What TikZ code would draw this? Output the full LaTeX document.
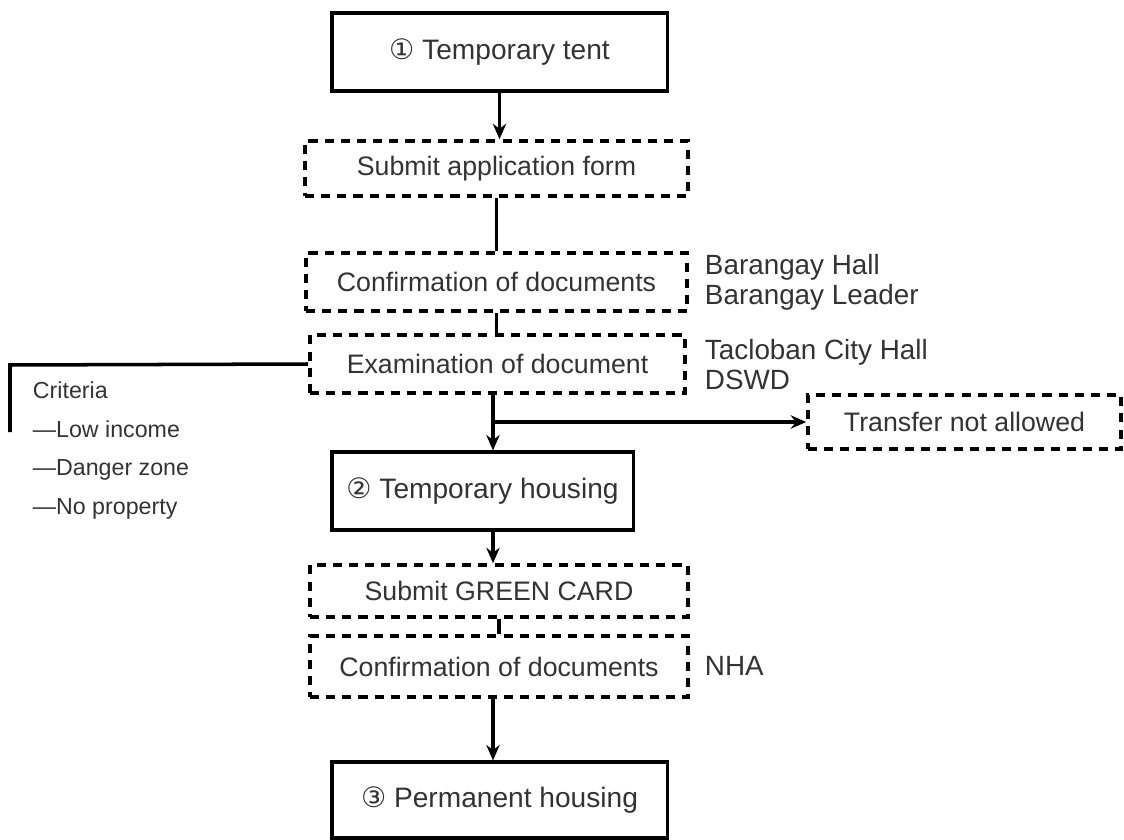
\documentclass[tikz,border=0pt]{standalone}
\usepackage{fontspec}
\setmainfont{Liberation Sans}
\newfontfamily\circfont{DejaVu Sans}
\usetikzlibrary{arrows.meta}
\tikzset{
  solidbox/.style={draw, line width=2.2pt, minimum width=8.375cm, minimum height=1.95cm, font=\fontsize{20}{23}\selectfont},
  dashbox/.style={draw, line width=2.5pt, dash pattern=on 6.5pt off 5pt, minimum height=1.4cm, font=\fontsize{19}{22}\selectfont},
  sidenote/.style={anchor=west, align=left, font=\fontsize{19.8}{21.3}\selectfont},
  link/.style={line width=2.5pt},
  flow/.style={line width=2.5pt, -{Stealth[length=11pt,width=9.5pt]}}
}
\begin{document}
\begin{tikzpicture}[x=0.025cm, y=-0.025cm, text=black!80]
\useasboundingbox (0,0) rectangle (1124,840);
\node[solidbox] (tent) at (499.5,52) {{\circfont ①} Temporary tent};
\node[dashbox, minimum width=9.575cm, minimum height=1.375cm] (apply) at (496.5,168.5) {Submit application form};
\node[dashbox, minimum width=9.525cm, minimum height=1.45cm] (confirm) at (496.5,282) {Confirmation of documents};
\node[dashbox, minimum width=9.375cm, minimum height=1.45cm] (exam) at (497.5,364) {Examination of document};
\node[dashbox, minimum width=7.825cm, minimum height=1.35cm] (refuse) at (964.5,422) {Transfer not allowed};
\node[solidbox, minimum width=7.525cm] (housing) at (482.5,491) {{\circfont ②} Temporary housing};
\node[dashbox, minimum width=9.45cm, minimum height=1.3cm] (green) at (499,591) {Submit GREEN CARD};
\node[dashbox, minimum width=9.45cm, minimum height=1.525cm] (nha) at (499,666.5) {Confirmation of documents};
\node[solidbox, minimum height=1.9cm] (permanent) at (499.5,800) {{\circfont ③} Permanent housing};
\node[sidenote] (hall) at (700,282.5) {Barangay Hall\\Barangay Leader};
\node[sidenote] (city) at (700,365) {Tacloban City Hall\\DSWD};
\node[sidenote] (agency) at (700,666) {NHA};
\node[sidenote, font=\fontsize{16.5}{27.6}\selectfont] (criteria) at (28,450.5) {Criteria\\—Low income\\—Danger zone\\—No property};
\coordinate (critTop) at (10,365);
\coordinate (critEnd) at (10,432);
\coordinate (split) at (exam.south |- refuse.west);
\draw[flow] (tent) -- (tent.south |- apply.north);
\draw[link] (apply) -- (confirm);
\draw[link] (confirm) -- (confirm.south |- exam.north);
\draw[flow] (exam.south -| 493,0) -- (493,0 |- housing.north);
\draw[flow] (493,0 |- split) -- (refuse.west);
\draw[link] (exam.west) -- (critTop) -- (critEnd);
\draw[flow] (493,0 |- housing.south) -- (493,0 |- green.north);
\draw[link] (green) -- (green.south |- nha.north);
\draw[flow] (nha.south -| 493,0) -- (permanent.north -| 493,0);
\end{tikzpicture}
\end{document}
